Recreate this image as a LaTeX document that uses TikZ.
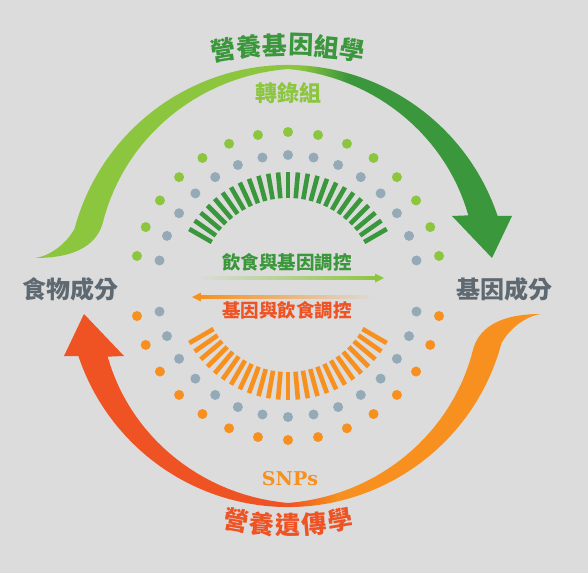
\documentclass[tikz,border=0pt]{standalone}
\usepackage{fontspec}
\newfontfamily\cjk{Noto Sans CJK TC}
\newfontfamily\snpfont{DejaVu Serif}
\usetikzlibrary{calc}

\definecolor{bgcol}{HTML}{DCDCDC}
\definecolor{lgreen}{HTML}{8CC63F}
\definecolor{dgreen}{HTML}{3B973B}
\definecolor{dotgray}{HTML}{95AAB7}
\definecolor{orng}{HTML}{F7901E}
\definecolor{redor}{HTML}{EF5323}
\definecolor{txtgray}{HTML}{5E6971}

% outline of one big curved arrow (tail on the left, head on the right)
\newcommand{\swooshpath}{(-253,28) .. controls (-238,30) and (-222,42) .. (165:221)
  arc[start angle=165,end angle=18.5,radius=221]
  -- (224,70) -- (204,28) -- (164,70)
  -- plot[domain=21.4:90,samples=30] (\x:{217-0.34*(90-\x)})
  -- plot[domain=90:161,samples=30] (\x:{217-0.3*(\x-90)})
  .. controls (-190,45) and (-207,28) .. (-253,28) -- cycle}

\begin{document}
\begin{tikzpicture}[x=1pt,y=1pt,every node/.style={inner sep=0pt},
  cjktxt/.style={font=\cjk\bfseries\fontsize{#1}{#1}\selectfont}]
  \fill[bgcol] (-288,-287) rectangle (300,286);
  \useasboundingbox (-288,-287) rectangle (300,286);

  % top arrow
  \begin{scope}
    \clip \swooshpath;
    \fill[lgreen] (-260,20) rectangle (10,230);
    \shade[left color=lgreen,right color=dgreen] (10,20) rectangle (60,230);
    \fill[dgreen] (60,20) rectangle (230,230);
  \end{scope}
  % bottom arrow
  \begin{scope}[rotate=180]
    \clip \swooshpath;
    \fill[orng] (-260,20) rectangle (-50,230);
    \shade[left color=redor,right color=orng] (-50,20) rectangle (0,230);
    \fill[redor] (0,20) rectangle (230,230);
  \end{scope}

  % dots
  \foreach \k [evaluate=\k as \a using \k*11.25] in {1,...,15} {
    \fill[lgreen] (\a:154) circle (5);
    \fill[dotgray] (\a:131) circle (5);
    \fill[orng] (180+\a:154) circle (5);
    \fill[dotgray] (180+\a:131) circle (5);
  }
  % bars
  \foreach \a in {30,35,...,150}
    \draw[dgreen,line width=4.6] (\a:88) -- (\a:114);
  \foreach \a in {210,215,...,330}
    \draw[orng,line width=4.6] (\a:86) -- (\a:114);

  % arched titles
  \foreach \c [count=\i, evaluate=\i as \r using (3.5-\i)*3.72] in {營,養,基,因,組,學}
    \node[cjktxt=25,text=dgreen,rotate=\r] (top\i)
      at ([shift={(0,-159)}]90+\r:400) {\c};
  \foreach \c [count=\i, evaluate=\i as \r using -(3-\i)*4.97] in {營,養,遺,傳,學}
    \node[cjktxt=25,text=redor,rotate=\r] (bot\i)
      at ([shift={(0,61)}]270+\r:300) {\c};

  \node[cjktxt=22,text=lgreen] (trans) at (0,193) {轉錄組};
  \node[font=\snpfont\bfseries\fontsize{19}{19}\selectfont,text=orng] (snps) at (2,-193) {SNPs};
  \node[cjktxt=24,text=txtgray] (food) at (-217,-3) {食物成分};
  \node[cjktxt=24,text=txtgray] (gene) at (216,-3) {基因成分};
  \node[cjktxt=18.5,text=dgreen] (dg) at (-1,24) {飲食與基因調控};
  \node[cjktxt=18.5,text=redor] (gd) at (-1,-24) {基因與飲食調控};

  % middle arrows
  \coordinate (ga) at (-91,8);
  \coordinate (gb) at (96,8);
  \shade[left color=bgcol,right color=lgreen] ($(ga)+(0,-1.1)$) rectangle ($(gb)+(-8,1.1)$);
  \fill[lgreen] (gb) -- ++(-9,4.5) -- ++(0,-9) -- cycle;
  \coordinate (oa) at (89,-11);
  \coordinate (ob) at (-96,-11);
  \shade[left color=orng,right color=bgcol] ($(ob)+(8,-1.1)$) rectangle ($(oa)+(0,1.1)$);
  \fill[orng] (ob) -- ++(9,4.5) -- ++(0,-9) -- cycle;
\end{tikzpicture}
\end{document}
